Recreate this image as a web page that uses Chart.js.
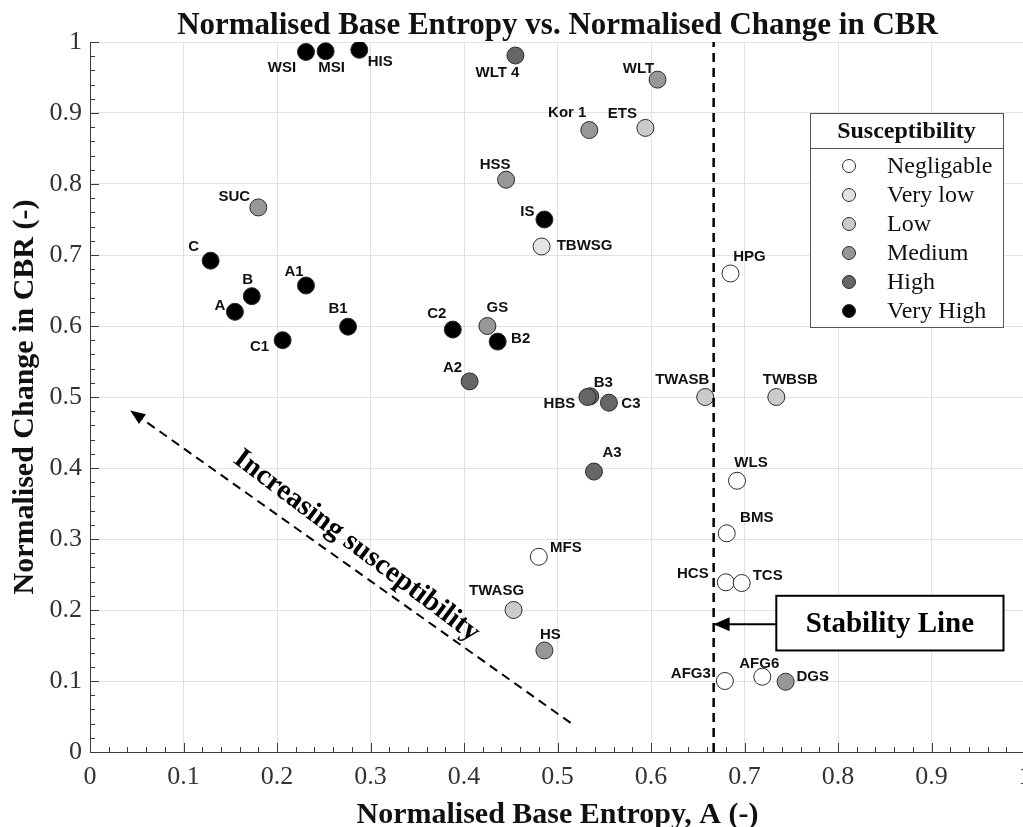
<!DOCTYPE html>
<html>
<head>
<meta charset="utf-8">
<title>Normalised Base Entropy vs. Normalised Change in CBR</title>
<script src="https://cdn.jsdelivr.net/npm/chart.js@4.4.1/dist/chart.umd.min.js"></script>
<style>
  html, body { margin: 0; padding: 0; background: #fff; overflow: hidden; }
  #wrap { position: relative; width: 1060px; height: 827px; }
</style>
</head>
<body>
<div id="wrap"><canvas id="chart"></canvas></div>
<script>
// ── Daten ────────────────────────────────────────────────────────────────────

const pointNames = ['WSI', 'MSI', 'HIS', 'WLT 4', 'WLT', 'Kor 1', 'ETS', 'HSS', 'SUC', 'IS', 'TBWSG',
  'C', 'B', 'A', 'A1', 'C1', 'B1', 'C2', 'GS', 'B2', 'A2', 'B3', 'HBS', 'C3', 'A3',
  'TWASB', 'TWBSB', 'HPG', 'WLS', 'BMS', 'HCS', 'TCS', 'AFG3', 'AFG6', 'DGS', 'MFS', 'TWASG', 'HS'];

const baseEntropy = [0.231, 0.252, 0.288, 0.455, 0.607, 0.534, 0.594, 0.445, 0.180, 0.486, 0.483,
  0.129, 0.173, 0.155, 0.231, 0.206, 0.276, 0.388, 0.425, 0.436, 0.406, 0.535, 0.532, 0.555, 0.539,
  0.658, 0.734, 0.685, 0.692, 0.681, 0.680, 0.697, 0.679, 0.719, 0.744, 0.480, 0.453, 0.486];

const cbrChange = [0.986, 0.987, 0.989, 0.981, 0.947, 0.876, 0.879, 0.806, 0.767, 0.750, 0.712,
  0.692, 0.642, 0.620, 0.657, 0.580, 0.599, 0.595, 0.600, 0.578, 0.522, 0.501, 0.500, 0.492, 0.395,
  0.500, 0.500, 0.674, 0.382, 0.308, 0.239, 0.238, 0.100, 0.106, 0.099, 0.275, 0.200, 0.143];

const susceptibility = ['Very High', 'Very High', 'Very High', 'High', 'Medium', 'Medium', 'Low', 'Medium', 'Medium', 'Very High', 'Very low',
  'Very High', 'Very High', 'Very High', 'Very High', 'Very High', 'Very High', 'Very High', 'Medium', 'Very High', 'High', 'High', 'High', 'High', 'High',
  'Low', 'Low', 'Negligable', 'Negligable', 'Negligable', 'Negligable', 'Negligable', 'Negligable', 'Negligable', 'Medium', 'Negligable', 'Low', 'Medium'];

const levels = ['Negligable', 'Very low', 'Low', 'Medium', 'High', 'Very High'];
const levelColors = ['#ffffff', '#e4e4e4', '#cbcbcb', '#979797', '#666666', '#000000'];

// Stabilitaetsgrenze A = 2/3
const stabilityX = [0.667, 0.667];
const stabilityY = [0, 1];
// Pfeil "Increasing susceptibility"
const trendX = [0.514, 0.043];
const trendY = [0.041, 0.481];
// Hinweis-Pfeil vom Kasten zur Linie
const noteArrowX = [0.734, 0.667];
const noteArrowY = [0.18, 0.18];

// ── Styling ──────────────────────────────────────────────────────────────────

const SERIF = "'Liberation Serif', 'Times New Roman', serif";
const SANS = "'Liberation Sans', Arial, sans-serif";

// Versatz Beschriftung relativ zum Punkt (px, Textmitte)
const labelOffset = {
  'WSI': [-24, 16], 'MSI': [6, 17], 'HIS': [21, 12], 'WLT 4': [-18, 17], 'WLT': [-19, -11],
  'Kor 1': [-22, -17], 'ETS': [-23, -14], 'HSS': [-11, -15], 'SUC': [-24, -11], 'IS': [-17, -8],
  'TBWSG': [43, -1], 'C': [-17, -14], 'B': [-4, -16], 'A': [-15, -6], 'A1': [-12, -14],
  'C1': [-23, 7], 'B1': [-10, -18], 'C2': [-16, -16], 'GS': [10, -18], 'B2': [23, -3],
  'A2': [-17, -14], 'B3': [13, -13], 'HBS': [-28, 7], 'C3': [22, 1], 'A3': [18, -19],
  'TWASB': [-23, -17], 'TWBSB': [14, -17], 'HPG': [19, -17], 'WLS': [14, -18], 'BMS': [30, -15],
  'HCS': [-33, -8], 'TCS': [26, -7], 'AFG3': [-34, -7], 'AFG6': [-3, -13], 'DGS': [27, -5],
  'MFS': [27, -9], 'TWASG': [-17, -19], 'HS': [6, -16]
};

// ── Datasets ─────────────────────────────────────────────────────────────────

const pointDatasets = levels.map((lv, k) => ({
  label: lv,
  data: pointNames
    .map((n, i) => ({ x: baseEntropy[i], y: cbrChange[i], name: n, lv: susceptibility[i] }))
    .filter(p => p.lv === lv),
  backgroundColor: levelColors[k],
  borderColor: '#2b2b2b',
  borderWidth: 1,
  pointRadius: 8.5,
  pointHoverRadius: 8.5,
  order: 1
}));

function lineSet(id, xs, ys, dash, width) {
  return {
    label: id,
    isHelper: true,
    type: 'line',
    data: xs.map((x, i) => ({ x, y: ys[i] })),
    borderColor: '#000',
    borderWidth: width,
    borderDash: dash,
    pointRadius: 0,
    fill: false,
    showLine: true,
    order: 0
  };
}

const helperSets = [
  lineSet('stability', stabilityX, stabilityY, [9, 6], 2.5),
  lineSet('trend', trendX, trendY, [9, 6], 2),
  lineSet('note', noteArrowX, noteArrowY, [], 2)
];

// ── Plugins ──────────────────────────────────────────────────────────────────

function arrowHead(ctx, from, to, len, half) {
  const ang = Math.atan2(to.y - from.y, to.x - from.x);
  ctx.save();
  ctx.fillStyle = '#000';
  ctx.beginPath();
  ctx.moveTo(to.x, to.y);
  ctx.lineTo(to.x - len * Math.cos(ang) + half * Math.sin(ang), to.y - len * Math.sin(ang) - half * Math.cos(ang));
  ctx.lineTo(to.x - len * Math.cos(ang) - half * Math.sin(ang), to.y - len * Math.sin(ang) + half * Math.cos(ang));
  ctx.closePath();
  ctx.fill();
  ctx.restore();
}

const decorPlugin = {
  id: 'decor',
  beforeDatasetsDraw(chart) {
    // MATLAB-artige Ticks nach innen (major + minor)
    const { ctx, chartArea: a, scales: { x, y } } = chart;
    ctx.save();
    ctx.strokeStyle = '#3a3a3a';
    ctx.lineWidth = 1;
    for (let i = 0; i <= 50; i++) {
      const len = i % 5 === 0 ? 9 : 5;
      const px = Math.round(x.getPixelForValue(i / 50)) + 0.5;
      const py = Math.round(y.getPixelForValue(i / 50)) + 0.5;
      ctx.beginPath();
      ctx.moveTo(px, a.bottom); ctx.lineTo(px, a.bottom - len);
      ctx.moveTo(a.left, py); ctx.lineTo(a.left + len, py);
      ctx.stroke();
    }
    ctx.restore();
  },
  afterDatasetsDraw(chart) {
    const { ctx, scales: { x, y } } = chart;

    // Punktbeschriftungen
    ctx.save();
    ctx.font = 'bold 15px ' + SANS;
    ctx.fillStyle = '#111';
    ctx.textAlign = 'center';
    ctx.textBaseline = 'middle';
    chart.data.datasets.forEach((ds, di) => {
      if (ds.isHelper) return;
      const meta = chart.getDatasetMeta(di);
      meta.data.forEach((el, j) => {
        const name = ds.data[j].name;
        const off = labelOffset[name] || [0, -16];
        ctx.fillText(name, el.x + off[0], el.y + off[1]);
      });
    });
    ctx.restore();

    // Pfeilspitzen
    const trendMeta = chart.getDatasetMeta(chart.data.datasets.findIndex(d => d.label === 'trend'));
    arrowHead(ctx, trendMeta.data[0], trendMeta.data[1], 15, 6);
    const noteMeta = chart.getDatasetMeta(chart.data.datasets.findIndex(d => d.label === 'note'));
    arrowHead(ctx, noteMeta.data[0], noteMeta.data[1], 16, 7);

    // Kasten "Stability Line"
    const bx1 = x.getPixelForValue(0.734), bx2 = x.getPixelForValue(0.977);
    const by1 = y.getPixelForValue(0.220), by2 = y.getPixelForValue(0.143);
    ctx.save();
    ctx.fillStyle = '#fff';
    ctx.fillRect(bx1, by1, bx2 - bx1, by2 - by1);
    ctx.strokeStyle = '#000';
    ctx.lineWidth = 2;
    ctx.strokeRect(bx1, by1, bx2 - bx1, by2 - by1);
    ctx.fillStyle = '#000';
    ctx.font = 'bold 29px ' + SERIF;
    ctx.textAlign = 'center';
    ctx.textBaseline = 'middle';
    ctx.fillText('Stability Line', (bx1 + bx2) / 2, (by1 + by2) / 2 + 1);
    ctx.restore();

    // Schraeger Text am Pfeil
    ctx.save();
    ctx.translate(x.getPixelForValue(0.285), y.getPixelForValue(0.29));
    ctx.rotate(37 * Math.PI / 180);
    ctx.font = 'bold 29px ' + SERIF;
    ctx.fillStyle = '#000';
    ctx.textAlign = 'center';
    ctx.textBaseline = 'middle';
    ctx.fillText('Increasing susceptibility', 0, 0);
    ctx.restore();
  },
  afterDraw(chart) {
    const { ctx, chartArea: a } = chart;
    const cx = (a.left + a.right) / 2;
    ctx.save();
    ctx.fillStyle = '#111';
    ctx.textAlign = 'center';
    ctx.textBaseline = 'alphabetic';
    ctx.font = 'bold 31px ' + SERIF;
    ctx.fillText('Normalised Base Entropy vs. Normalised Change in CBR', cx, 34);
    ctx.font = 'bold 30px ' + SERIF;
    ctx.fillText('Normalised Base Entropy, A (-)', cx, 823);
    ctx.translate(33, (a.top + a.bottom) / 2);
    ctx.rotate(-Math.PI / 2);
    ctx.fillText('Normalised Change in CBR (-)', 0, 0);
    ctx.restore();

    // Legende mit Titelzeile
    const lx = a.right - 215, ly = a.top + 71, lw = 193, lh = 214;
    ctx.save();
    ctx.fillStyle = '#fff';
    ctx.fillRect(lx, ly, lw, lh);
    ctx.strokeStyle = '#555';
    ctx.lineWidth = 1;
    ctx.strokeRect(lx + 0.5, ly + 0.5, lw, lh);
    ctx.beginPath();
    ctx.moveTo(lx, ly + 35.5); ctx.lineTo(lx + lw, ly + 35.5);
    ctx.stroke();
    ctx.fillStyle = '#111';
    ctx.font = 'bold 24px ' + SERIF;
    ctx.textAlign = 'center';
    ctx.fillText('Susceptibility', lx + lw / 2, ly + 25);
    ctx.font = '24px ' + SERIF;
    ctx.textAlign = 'left';
    pointDatasets.forEach((ds, k) => {
      const rowY = ly + 60 + k * 29;
      ctx.beginPath();
      ctx.arc(lx + 39, rowY - 7, 6.5, 0, Math.PI * 2);
      ctx.fillStyle = ds.backgroundColor;
      ctx.fill();
      ctx.strokeStyle = '#2b2b2b';
      ctx.stroke();
      ctx.fillStyle = '#111';
      ctx.fillText(ds.label, lx + 77, rowY);
    });
    ctx.restore();
  }
};

// ── Chart ────────────────────────────────────────────────────────────────────

const tickFont = { family: SERIF, size: 26 };
const tickLabel = v => String(Number(v.toFixed(1)));

new Chart(document.getElementById('chart'), {
  type: 'scatter',
  data: { datasets: [...helperSets, ...pointDatasets] },
  options: {
    responsive: true,
    maintainAspectRatio: false,
    animation: false,
    layout: { padding: { top: 42, left: 0, right: 35, bottom: 0 } },
    plugins: { legend: { display: false }, tooltip: { enabled: false } },
    scales: {
      x: {
        type: 'linear', min: 0, max: 1,
        ticks: { stepSize: 0.1, font: tickFont, color: '#333', padding: 10, maxRotation: 0, callback: tickLabel },
        grid: { color: '#e2e2e2', drawTicks: false },
        border: { display: true, color: '#3a3a3a', width: 1 },
        afterFit: s => { s.height = 75; }
      },
      y: {
        type: 'linear', min: 0, max: 1,
        ticks: { stepSize: 0.1, font: tickFont, color: '#333', padding: 8, callback: tickLabel },
        grid: { color: '#e2e2e2', drawTicks: false },
        border: { display: true, color: '#3a3a3a', width: 1 },
        afterFit: s => { s.width = 90; }
      }
    }
  },
  plugins: [decorPlugin]
});
</script>
</body>
</html>
